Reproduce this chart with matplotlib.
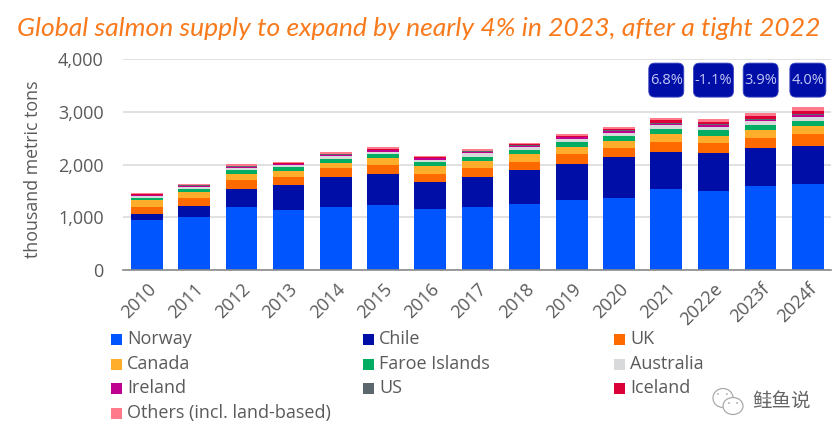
import matplotlib
matplotlib.use("Agg")
import matplotlib.pyplot as plt
import numpy as np
from matplotlib.patches import Rectangle, Circle, Ellipse, FancyBboxPatch

plt.rcParams["font.family"] = ["Open Sans", "Noto Sans CJK SC", "DejaVu Sans"]

years = ["2010", "2011", "2012", "2013", "2014", "2015", "2016", "2017", "2018",
         "2019", "2020", "2021", "2022e", "2023f", "2024f"]
norway = [941, 1005, 1188, 1131, 1194, 1226, 1163, 1200, 1251, 1327, 1359, 1536, 1504, 1599, 1630]
chile = [114, 202, 354, 474, 569, 600, 505, 563, 645, 683, 777, 695, 720, 714, 727]
uk = [145, 152, 158, 158, 164, 158, 158, 164, 151, 189, 177, 196, 190, 196, 215]
canada = [121, 126, 126, 114, 108, 133, 139, 139, 152, 133, 132, 151, 133, 139, 152]
faroe = [38, 57, 63, 76, 76, 82, 82, 83, 70, 88, 89, 101, 101, 101, 101]
australia = [40, 30, 45, 32, 44, 44, 46, 60, 55, 60, 61, 72, 72, 76, 78]
ireland = [24, 26, 24, 22, 24, 26, 24, 26, 28, 34, 36, 26, 26, 26, 28]
us = [8, 10, 14, 10, 14, 14, 12, 14, 14, 14, 16, 16, 16, 17, 18]
iceland = [4, 5, 7, 6, 8, 9, 9, 13, 14, 19, 27, 52, 52, 58, 60]
others = [18, 24, 24, 18, 30, 33, 29, 32, 28, 25, 31, 43, 42, 44, 81]

series = [
    ("Norway", norway, "#0055ff"),
    ("Chile", chile, "#000ea8"),
    ("UK", uk, "#ff6a00"),
    ("Canada", canada, "#ffae2b"),
    ("Faroe Islands", faroe, "#00ad62"),
    ("Australia", australia, "#d8d9da"),
    ("Ireland", ireland, "#c0008f"),
    ("US", us, "#5c666d"),
    ("Iceland", iceland, "#dc0039"),
    ("Others (incl. land-based)", others, "#ff7b8c"),
]
growth_labels = ["6.8%", "-1.1%", "3.9%", "4.0%"]
growth_pos = [11, 12, 13, 14]
badge_widths = [35, 40, 35, 36]

W, H = 837, 438
grey = "#5a5a5a"

fig = plt.figure(figsize=(W / 100, H / 100), dpi=100)
ax = fig.add_axes([123 / W, 1 - 270 / H, (831 - 123) / W, (270 - 59) / H])

x = np.arange(len(years))
bottom = np.zeros(len(years))
for name, vals, col in series:
    ax.bar(x, vals, 0.67, bottom=bottom, color=col, zorder=3)
    bottom += np.array(vals)

ax.set_xlim(-0.51, 14.49)
ax.set_ylim(0, 4000)
ax.set_yticks([0, 1000, 2000, 3000, 4000])
ax.set_yticklabels(["0", "1,000", "2,000", "3,000", "4,000"], fontsize=13, color=grey)
ax.set_xticks(x)
ax.set_xticklabels(years, fontsize=13, color=grey, rotation=45, ha="right", rotation_mode="anchor")
ax.tick_params(axis="both", length=0)
ax.tick_params(axis="y", pad=14)
ax.tick_params(axis="x", pad=7)
ax.grid(axis="y", color="#dedede", linewidth=1.3, zorder=0)
ax.set_axisbelow(True)
for s in ["top", "right", "left"]:
    ax.spines[s].set_visible(False)
ax.spines["bottom"].set_color("#8a8a8a")
ax.spines["bottom"].set_linewidth(1.2)
ax.spines["bottom"].set_zorder(5)

# growth badges, sized in pixels so the corners stay round
for pos, lab, bw in zip(growth_pos, growth_labels, badge_widths):
    cx, cy = ax.transData.transform((pos, 3600))
    fig.add_artist(FancyBboxPatch((cx - bw / 2 + 6, cy - 11), bw - 12, 22, transform=None,
                                  boxstyle="round,pad=6,rounding_size=6",
                                  fc="#000ea8", ec="#3a44c0", lw=0.6))
    fig.text(cx / W, cy / H, lab, ha="center", va="center", fontsize=10.5, color="#c3c8f5", zorder=6)

fig.text(17 / W, 1 - 28 / H, "Global salmon supply to expand by nearly 4% in 2023, after a tight 2022",
         fontsize=19.05, family=["Lato", "DejaVu Sans"], style="italic", color="#f97a1c", ha="left", va="center")
fig.text(33 / W, 1 - 169 / H, "thousand metric tons", fontsize=12.8, color=grey, rotation=90,
         ha="center", va="center")

# legend, filled row by row
col_x = [111, 363, 614]
row_y = [339, 364, 388, 413]
for i, (name, vals, col) in enumerate(series):
    px = col_x[i % 3]
    py = row_y[i // 3]
    fig.add_artist(Rectangle((px / W, 1 - (py + 5.5) / H), 11 / W, 11 / H, transform=fig.transFigure,
                             fc=col, ec="none"))
    fig.text((px + 16) / W, 1 - py / H, name, fontsize=13, color=grey, ha="left", va="center")

# watermark
for cx, cy, w, h in [(723, 398, 20, 19), (733, 406, 20, 17)]:
    fig.add_artist(Ellipse((cx / W, 1 - cy / H), w / W, h / H, transform=fig.transFigure,
                           fc="white", ec="#aaaaaa", lw=0.9))
for cx, cy in [(718, 394), (727, 394), (729, 403), (737, 403)]:
    fig.add_artist(Circle((cx / W, 1 - cy / H), 0.0013, transform=fig.transFigure, fc="#888888", ec="none"))
fig.text(752 / W, 1 - 402 / H, "鲑鱼说", fontsize=14, color="#666666", ha="left", va="center")

fig.savefig("out.png", dpi=100)
